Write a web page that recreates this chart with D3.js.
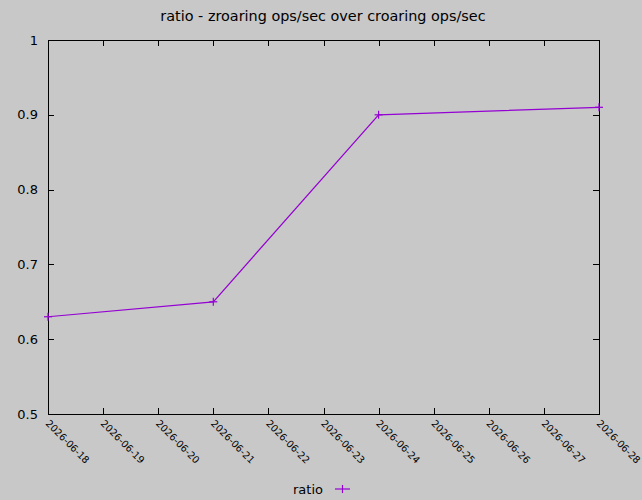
<!DOCTYPE html>
<html>
<head>
<meta charset="utf-8">
<script src="https://cdn.jsdelivr.net/npm/d3@7"></script>
<style>
  body { margin: 0; background: #c8c8c8; }
  svg { display: block; font-family: "DejaVu Sans", sans-serif; }
</style>
</head>
<body>
<div id="chart"></div>
<script>
// data
var dates = ["2026-06-18", "2026-06-21", "2026-06-24", "2026-06-28"];
var ratio = [0.63, 0.65, 0.90, 0.91];
var yTicks = [0.5, 0.6, 0.7, 0.8, 0.9, 1];
var xDomain = ["2026-06-18", "2026-06-28"];

var W = 642, H = 500;
var margin = {left: 48, right: 43, top: 40, bottom: 86};
var tickLen = 6;
var purple = "#9400d3";

var parse = d3.utcParse("%Y-%m-%d");
var fmt = d3.utcFormat("%Y-%m-%d");

var data = dates.map((d, i) => ({date: parse(d), value: ratio[i]}));

var svg = d3.select("#chart").append("svg")
  .attr("width", W)
  .attr("height", H);

var x = d3.scaleUtc()
  .domain(xDomain.map(parse))
  .range([margin.left, W - margin.right]);
var y = d3.scaleLinear()
  .domain([0.5, 1])
  .range([H - margin.bottom, margin.top]);

var x0 = x.range()[0], x1 = x.range()[1];
var y0 = y.range()[0], y1 = y.range()[1];

// title
svg.append("text")
  .attr("x", 323)
  .attr("y", 21)
  .attr("text-anchor", "middle")
  .attr("font-size", 14.4)
  .text("ratio - zroaring ops/sec over croaring ops/sec");

var xt = d3.utcDay.range(x.domain()[0], d3.utcDay.offset(x.domain()[1], 1));

// ticks, mirrored on all sides, pointing inwards
var ticks = svg.append("g").attr("stroke", "#000").attr("stroke-width", 1);
xt.forEach(d => {
  var px = Math.round(x(d)) + 0.5;
  ticks.append("line").attr("x1", px).attr("x2", px).attr("y1", y0).attr("y2", y0 - tickLen);
  ticks.append("line").attr("x1", px).attr("x2", px).attr("y1", y1).attr("y2", y1 + tickLen);
});
yTicks.forEach(v => {
  var py = Math.round(y(v)) + 0.5;
  ticks.append("line").attr("x1", x0).attr("x2", x0 + tickLen).attr("y1", py).attr("y2", py);
  ticks.append("line").attr("x1", x1).attr("x2", x1 - tickLen).attr("y1", py).attr("y2", py);
});

// frame
svg.append("rect")
  .attr("x", Math.round(x0) + 0.5)
  .attr("y", Math.round(y1) + 0.5)
  .attr("width", Math.round(x1 - x0))
  .attr("height", Math.round(y0 - y1))
  .attr("fill", "none")
  .attr("stroke", "#000")
  .attr("stroke-width", 1);

// y labels
svg.append("g").selectAll("text")
  .data(yTicks)
  .enter().append("text")
  .attr("x", x0 - 10)
  .attr("y", d => y(d))
  .attr("dy", "0.35em")
  .attr("text-anchor", "end")
  .attr("font-size", 13)
  .text(d => d === 1 ? "1" : d3.format(".1f")(d));

// x labels, rotated
svg.append("g").selectAll("text")
  .data(xt)
  .enter().append("text")
  .attr("transform", d => "translate(" + (x(d) - 3) + "," + (y0 + 10) + ") rotate(45)")
  .attr("font-size", 9.8)
  .text(d => fmt(d));

// line + points
var line = d3.line().x(d => x(d.date)).y(d => y(d.value));
svg.append("path")
  .datum(data)
  .attr("d", line)
  .attr("fill", "none")
  .attr("stroke", purple)
  .attr("stroke-width", 1.2);

var pts = svg.append("g").attr("stroke", purple).attr("stroke-width", 1.2);
data.forEach(d => {
  var px = x(d.date), py = y(d.value);
  pts.append("line").attr("x1", px - 4).attr("x2", px + 4).attr("y1", py).attr("y2", py);
  pts.append("line").attr("x1", px).attr("x2", px).attr("y1", py - 4).attr("y2", py + 4);
});

// legend
var ly = 489;
svg.append("text")
  .attr("x", 323)
  .attr("y", ly)
  .attr("dy", "0.35em")
  .attr("text-anchor", "end")
  .attr("font-size", 13)
  .text("ratio");
var lg = svg.append("g").attr("stroke", purple).attr("stroke-width", 1.2);
lg.append("line").attr("x1", 335).attr("x2", 350).attr("y1", ly).attr("y2", ly);
lg.append("line").attr("x1", 342.5).attr("x2", 342.5).attr("y1", ly - 4).attr("y2", ly + 4);
</script>
</body>
</html>
